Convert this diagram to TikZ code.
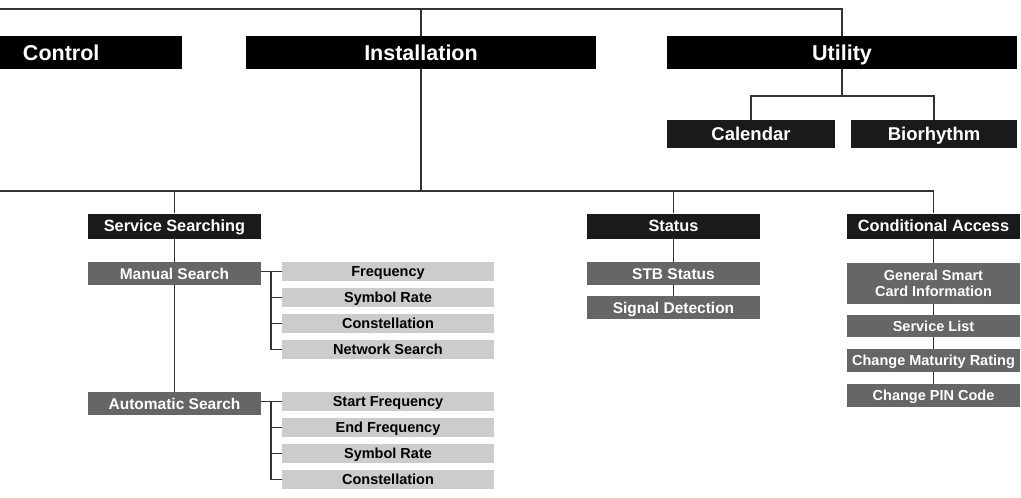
\documentclass[tikz,border=0pt]{standalone}
\usepackage{fontspec}
\setmainfont{Liberation Sans}
\usetikzlibrary{positioning}

\definecolor{menublack}{HTML}{000000}
\definecolor{menudark}{HTML}{1A1A1A}
\definecolor{menumid}{HTML}{666666}
\definecolor{menulight}{HTML}{CCCCCC}
\definecolor{menuline}{HTML}{333333}

\tikzset{
  topbox/.style={fill=menublack, text=white, minimum height=33pt, inner sep=0pt,
    text height=15.5pt, text depth=0pt, font=\fontsize{21.5}{24}\selectfont\bfseries},
  utilbox/.style={fill=menudark, text=white, minimum height=28pt, inner sep=0pt,
    text height=13.3pt, text depth=0pt, font=\fontsize{18.5}{21}\selectfont\bfseries},
  groupbox/.style={fill=menudark, text=white, minimum width=173pt, minimum height=25pt,
    inner sep=0pt, text height=11.7pt, text depth=0pt, font=\fontsize{16.3}{19}\selectfont\bfseries},
  midbox/.style={fill=menumid, text=white, minimum width=173pt, minimum height=23pt,
    inner sep=0pt, text height=11.2pt, text depth=0pt, font=\fontsize{15.5}{18}\selectfont\bfseries},
  cabox/.style={fill=menumid, text=white, minimum width=173pt, minimum height=23pt,
    inner sep=0pt, align=center, font=\fontsize{14.5}{16.5}\selectfont\bfseries},
  caitem/.style={cabox, text height=10.4pt, text depth=0pt},
  leafbox/.style={fill=menulight, text=black, minimum width=212pt, minimum height=19pt,
    inner sep=0pt, text height=10.4pt, text depth=0pt, font=\fontsize{14.5}{17}\selectfont\bfseries},
  link/.style={draw=menuline, line width=1.4pt}
}

\begin{document}
\begin{tikzpicture}[x=1pt, y=-1pt]
  \useasboundingbox (0,0) rectangle (1021,498);

  % Ana menü
  \node[topbox, text width=136pt, inner xsep=23pt, align=left] (control) at (91,52.5) {Control};
  \node[topbox, minimum width=350pt] (install) at (421,52.5) {Installation};
  \node[topbox, minimum width=350pt] (utility) at (842,52.5) {Utility};

  % Utility alt menüsü
  \node[utilbox, minimum width=168pt] (calendar) at (751,134) {Calendar};
  \node[utilbox, minimum width=166pt] (bio) at (934,134) {Biorhythm};

  % Installation alt menüsü
  \node[groupbox] (search) at (174.5,226) {Service Searching};
  \node[groupbox] (status) at (673.5,226) {Status};
  \node[groupbox] (ca) at (933.5,226) {Conditional Access};

  \node[midbox] (manual) at (174.5,273.5) {Manual Search};
  \node[midbox] (auto) at (174.5,403.5) {Automatic Search};

  \node[midbox] (stb) at (673.5,273.5) {STB Status};
  \node[midbox] (signal) at (673.5,307.5) {Signal Detection};

  \node[cabox, minimum height=41pt] (smart) at (933.5,283.5) {General Smart\\Card Information};
  \node[caitem, minimum height=22pt] (list) at (933.5,326) {Service List};
  \node[caitem] (rating) at (933.5,360.5) {Change Maturity Rating};
  \node[caitem] (pin) at (933.5,395.5) {Change PIN Code};

  % Yaprak kutular
  \node[leafbox] (mfreq) at (388,271.5) {Frequency};
  \node[leafbox] (msym) at (388,297.5) {Symbol Rate};
  \node[leafbox] (mcons) at (388,323.5) {Constellation};
  \node[leafbox] (mnet) at (388,349.5) {Network Search};

  \node[leafbox] (astart) at (388,401.5) {Start Frequency};
  \node[leafbox] (aend) at (388,427.5) {End Frequency};
  \node[leafbox] (asym) at (388,453.5) {Symbol Rate};
  \node[leafbox] (acons) at (388,479.5) {Constellation};

  % Bağlantı çizgileri
  \coordinate (topL) at (0,9);
  \coordinate (midL) at (0,191);
  \coordinate (utilY) at (0,96);
  \coordinate (mspine) at (271,271.5);
  \coordinate (aspine) at (271,401.5);

  \draw[link] (topL) -- (topL -| utility.north) -- (utility.north);
  \draw[link] (topL -| install.north) -- (install.north);
  \draw[link] (install.south) -- (midL -| install.south);
  \draw[link] (midL) -- (midL -| ca.north) -- (ca.north);
  \draw[link] (midL -| search.north) -- (search.north);
  \draw[link] (midL -| status.north) -- (status.north);

  \draw[link] (utility.south) -- (utilY -| utility.south);
  \draw[link] (calendar.north) -- (utilY -| calendar.north) -- (utilY -| bio.north) -- (bio.north);

  \draw[link] (search.south) -- (manual.north);
  \draw[link] (manual.south) -- (auto.north);
  \draw[link] (status.south) -- (stb.north);
  \draw[link] (stb.south) -- (signal.north);
  \draw[link] (ca.south) -- (smart.north);
  \draw[link] (smart.south) -- (list.north);
  \draw[link] (list.south) -- (rating.north);
  \draw[link] (rating.south) -- (pin.north);

  \draw[link] (manual.east |- mfreq.west) -- (mfreq.west);
  \draw[link] (mspine) -- (mspine |- mnet.west) -- (mnet.west);
  \draw[link] (mspine |- msym.west) -- (msym.west);
  \draw[link] (mspine |- mcons.west) -- (mcons.west);

  \draw[link] (auto.east |- astart.west) -- (astart.west);
  \draw[link] (aspine) -- (aspine |- acons.west) -- (acons.west);
  \draw[link] (aspine |- aend.west) -- (aend.west);
  \draw[link] (aspine |- asym.west) -- (asym.west);
\end{tikzpicture}
\end{document}
